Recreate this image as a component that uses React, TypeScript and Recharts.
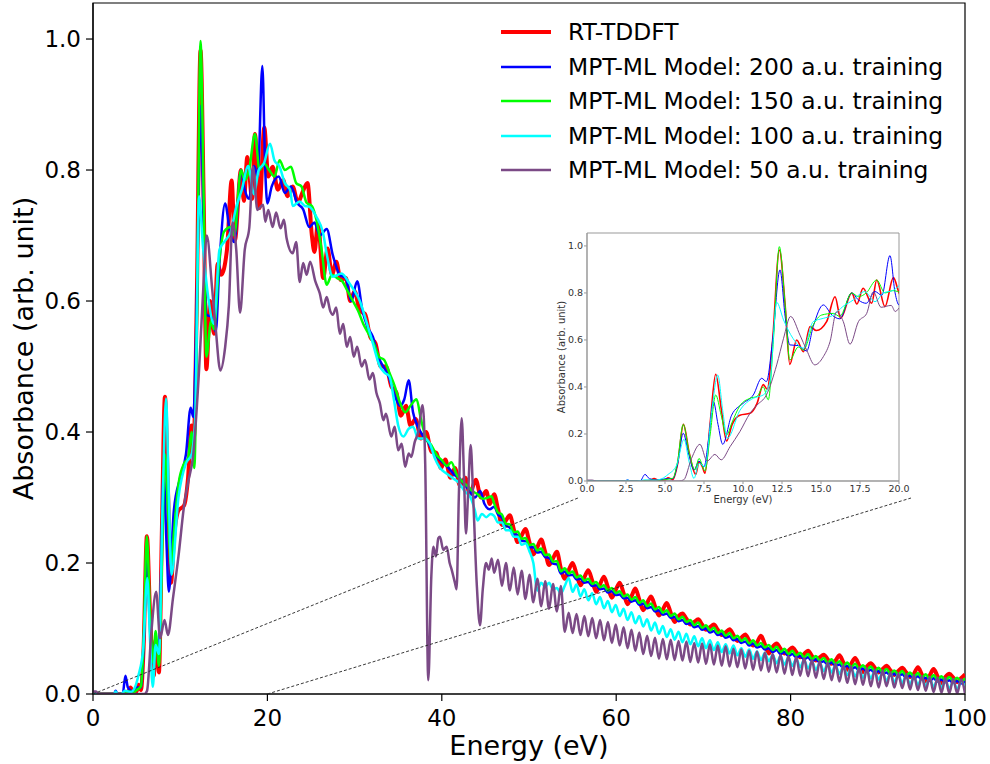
import React from 'react';
import { LineChart, Line, XAxis, YAxis, ReferenceArea } from 'recharts';

type Pt = [number, number];

// Absorbance spectra below 46 eV: [energy (eV), absorbance]
const rtHead: Pt[] = [
  [0, 0], [3.5, 0], [4.0, 0.002], [4.3, 0.01], [4.6, 0.003], [5.0, 0.004], [5.2, 0.014], [5.5, 0.006],
  [5.8, 0.07], [6.18, 0.241], [6.55, 0.12], [6.97, 0.028], [7.18, 0.082], [7.4, 0.06], [7.56, 0.033],
  [7.9, 0.25], [8.25, 0.454], [8.6, 0.31], [8.95, 0.17], [9.3, 0.24], [9.8, 0.28], [10.45, 0.288],
  [10.9, 0.33], [11.3, 0.41], [11.55, 0.39], [11.9, 0.6], [12.33, 0.983], [12.7, 0.75], [13.0, 0.496],
  [13.44, 0.6], [13.87, 0.55], [14.3, 0.657], [14.7, 0.64], [15.36, 0.678], [15.9, 0.784], [16.26, 0.692],
  [16.97, 0.8], [17.3, 0.753], [17.7, 0.82], [18.25, 0.756], [18.57, 0.855], [19.1, 0.742], [19.64, 0.865],
  [20.1, 0.79], [20.6, 0.805], [21.2, 0.77], [21.8, 0.785], [22.3, 0.76], [22.9, 0.775], [23.5, 0.75],
  [24.0, 0.765], [24.6, 0.78], [25.1, 0.7], [25.4, 0.675], [25.8, 0.72], [26.4, 0.635], [26.9, 0.68],
  [27.4, 0.64], [27.9, 0.66], [28.4, 0.632], [29.0, 0.635], [29.5, 0.6], [30.0, 0.615], [30.6, 0.585],
  [31.2, 0.58], [31.8, 0.545], [32.4, 0.535], [33.0, 0.5], [33.6, 0.5], [34.2, 0.47], [34.8, 0.46],
  [35.3, 0.425], [35.9, 0.44], [36.4, 0.41], [37.0, 0.42], [37.6, 0.39], [38.2, 0.4], [38.8, 0.37],
  [39.4, 0.368], [39.9, 0.345], [40.4, 0.358], [41.0, 0.33], [41.5, 0.345], [42.1, 0.318], [42.7, 0.33],
  [43.2, 0.305], [43.9, 0.327], [44.5, 0.3], [45.1, 0.31], [45.5, 0.29],
];

const m200Head: Pt[] = [
  [0, 0], [2.4, 0], [2.6, 0.005], [2.8, 0], [3.4, 0], [3.72, 0.028], [4.0, 0.01], [4.5, 0.004], [5.1, 0.01],
  [5.5, 0.01], [5.8, 0.07], [6.17, 0.203], [6.5, 0.12], [6.86, 0.047], [7.18, 0.085], [7.5, 0.06], [7.8, 0.18],
  [8.1, 0.338], [8.4, 0.24], [8.7, 0.156], [9.27, 0.28], [10.0, 0.33], [10.66, 0.366], [11.2, 0.437],
  [11.5, 0.423], [11.9, 0.6], [12.37, 0.898], [12.7, 0.7], [13.0, 0.579], [13.55, 0.576], [14.08, 0.553],
  [14.5, 0.657], [15.15, 0.749], [15.7, 0.706], [16.2, 0.69], [16.97, 0.8], [17.4, 0.77], [17.9, 0.756],
  [18.46, 0.806], [18.9, 0.79], [19.42, 0.959], [19.75, 0.8], [20.0, 0.749], [20.5, 0.775], [21.3, 0.79],
  [22.0, 0.765], [22.7, 0.775], [23.4, 0.75], [24.1, 0.74], [24.8, 0.713], [25.4, 0.72], [26.0, 0.7],
  [26.8, 0.71], [27.5, 0.67], [28.3, 0.64], [29.0, 0.635], [29.6, 0.6], [30.3, 0.63], [30.9, 0.585],
  [31.5, 0.56], [32.1, 0.545], [32.7, 0.515], [33.3, 0.5], [33.9, 0.485], [34.5, 0.46], [35.2, 0.44],
  [35.7, 0.45], [36.2, 0.479], [36.7, 0.43], [37.2, 0.41], [37.8, 0.395], [38.4, 0.385], [39.0, 0.37],
  [39.6, 0.36], [40.2, 0.352], [40.8, 0.345], [41.4, 0.335], [42.0, 0.33], [42.6, 0.32], [43.2, 0.31],
  [43.8, 0.3], [44.4, 0.31], [44.9, 0.29], [45.5, 0.282],
];

const m150Head: Pt[] = [
  [0, 0], [3.5, 0], [4.2, 0.004], [4.6, 0.002], [5.0, 0.006], [5.5, 0.012], [5.8, 0.08], [6.17, 0.241],
  [6.55, 0.12], [6.92, 0.047], [7.18, 0.096], [7.56, 0.043], [7.9, 0.2], [8.25, 0.366], [8.6, 0.28],
  [8.95, 0.196], [9.3, 0.25], [9.8, 0.32], [10.45, 0.352], [10.9, 0.36], [11.3, 0.4], [11.62, 0.345],
  [11.95, 0.6], [12.33, 0.997], [12.7, 0.75], [13.0, 0.515], [13.55, 0.57], [13.87, 0.557], [14.5, 0.664],
  [15.04, 0.706], [15.8, 0.713], [16.2, 0.7], [16.97, 0.8], [17.4, 0.784], [17.9, 0.8], [18.57, 0.855],
  [19.1, 0.8], [19.6, 0.81], [20.2, 0.8], [20.8, 0.79], [21.4, 0.815], [22.0, 0.8], [22.7, 0.805],
  [23.3, 0.78], [23.9, 0.775], [24.5, 0.75], [25.1, 0.745], [25.6, 0.725], [26.2, 0.68], [26.8, 0.625],
  [27.4, 0.64], [28.0, 0.635], [28.6, 0.63], [29.2, 0.615], [29.8, 0.6], [30.4, 0.585], [31.0, 0.565],
  [31.6, 0.55], [32.2, 0.535], [32.8, 0.515], [33.4, 0.51], [34.0, 0.49], [34.6, 0.47], [35.2, 0.445],
  [35.8, 0.43], [36.4, 0.44], [37.1, 0.45], [37.6, 0.42], [38.2, 0.39], [38.8, 0.38], [39.4, 0.365],
  [40.0, 0.357], [40.6, 0.348], [41.1, 0.354], [41.7, 0.335], [42.3, 0.325], [42.9, 0.318], [43.5, 0.31],
  [44.1, 0.305], [44.7, 0.298], [45.3, 0.3], [45.7, 0.302],
];

const m100Head: Pt[] = [
  [0, 0], [2.4, 0], [2.6, 0.004], [2.8, 0], [3.2, 0], [3.7, 0.005], [4.3, 0.003], [4.8, 0.01], [5.2, 0.028],
  [5.75, 0.068], [6.22, 0.177], [6.55, 0.08], [6.86, 0.011], [7.18, 0.075], [7.56, 0.061], [8.0, 0.3],
  [8.38, 0.451], [8.7, 0.3], [9.0, 0.182], [9.8, 0.3], [10.66, 0.352], [11.3, 0.366], [11.73, 0.423],
  [12.16, 0.76], [12.6, 0.685], [13.2, 0.607], [13.87, 0.565], [14.5, 0.678], [15.15, 0.692], [15.8, 0.706],
  [16.4, 0.742], [17.07, 0.77], [17.8, 0.806], [18.46, 0.763], [19.0, 0.8], [19.6, 0.81], [20.3, 0.84],
  [20.8, 0.815], [21.4, 0.805], [22.0, 0.78], [22.6, 0.77], [22.9, 0.745], [23.7, 0.752], [24.3, 0.745],
  [24.8, 0.744], [25.6, 0.729], [26.4, 0.703], [26.8, 0.672], [27.5, 0.637], [28.5, 0.642], [29.4, 0.627],
  [30.0, 0.615], [30.6, 0.6], [31.3, 0.571], [32.0, 0.54], [32.9, 0.5], [33.5, 0.49], [34.0, 0.485],
  [34.5, 0.45], [35.0, 0.41], [35.6, 0.393], [36.2, 0.405], [36.7, 0.408], [37.3, 0.39], [38.0, 0.39],
  [38.6, 0.383], [39.2, 0.36], [39.8, 0.345], [40.5, 0.337], [41.2, 0.33], [42.0, 0.322], [42.6, 0.31],
  [43.3, 0.3], [43.8, 0.28], [44.1, 0.265], [44.6, 0.275], [45.1, 0.27], [45.6, 0.275],
];

const m50Head: Pt[] = [
  [0, 0.004], [0.35, 0.004], [0.6, 0], [5.9, 0], [6.2, 0.005], [6.7, 0.096], [7.24, 0.156], [7.7, 0.085],
  [8.2, 0.113], [8.6, 0.09], [9.17, 0.146], [9.8, 0.21], [10.45, 0.288], [10.9, 0.323], [11.5, 0.366],
  [12.16, 0.494], [12.6, 0.607], [13.05, 0.7], [13.65, 0.621], [14.08, 0.557], [14.6, 0.494], [15.15, 0.529],
  [15.58, 0.593], [16.0, 0.72], [16.43, 0.678], [16.86, 0.582], [17.4, 0.678], [17.93, 0.713], [18.35, 0.805],
  [18.85, 0.739], [19.5, 0.747], [19.76, 0.721], [20.1, 0.739], [20.6, 0.713], [21.0, 0.735], [21.5, 0.711],
  [21.9, 0.724], [22.2, 0.696], [22.9, 0.673], [23.3, 0.69], [23.7, 0.629], [24.1, 0.658], [24.5, 0.64],
  [24.9, 0.66], [25.5, 0.63], [26.0, 0.612], [26.4, 0.59], [26.8, 0.606], [27.2, 0.585], [27.5, 0.579],
  [27.9, 0.59], [28.3, 0.55], [28.7, 0.565], [29.1, 0.53], [29.5, 0.545], [29.9, 0.515], [30.3, 0.53],
  [30.8, 0.5], [31.2, 0.51], [31.7, 0.48], [32.1, 0.49], [32.5, 0.46], [32.9, 0.444], [33.3, 0.418],
  [33.6, 0.428], [34.2, 0.393], [34.6, 0.408], [35.0, 0.372], [35.4, 0.382], [35.8, 0.347], [36.2, 0.367],
  [36.5, 0.362], [36.9, 0.385], [37.3, 0.4], [37.8, 0.441], [38.1, 0.35], [38.45, 0.021], [38.8, 0.18],
  [39.03, 0.225], [39.33, 0.21], [39.6, 0.238], [39.79, 0.24], [40.17, 0.22], [40.56, 0.225], [40.9, 0.2],
  [41.13, 0.19], [41.5, 0.17], [41.7, 0.16], [41.95, 0.3], [42.28, 0.421], [42.55, 0.33], [42.77, 0.245],
  [43.0, 0.3], [43.31, 0.38], [43.6, 0.3], [44.0, 0.17], [44.38, 0.105], [44.7, 0.16], [45.07, 0.2],
  [45.4, 0.19], [45.72, 0.207],
];

// High-energy tail, shared energy grid (eV)
const tailEnergy = [
  46, 46.45, 46.9, 47.35, 47.8, 48.25, 48.7, 49.15, 49.6, 50.05, 50.5, 50.95, 51.4, 51.85, 52.3, 52.75, 53.2, 53.65, 54.1, 54.55,
  55, 55.45, 55.9, 56.35, 56.8, 57.25, 57.7, 58.15, 58.6, 59.05, 59.5, 59.95, 60.4, 60.85, 61.3, 61.75, 62.2, 62.65, 63.1, 63.55,
  64, 64.45, 64.9, 65.35, 65.8, 66.25, 66.7, 67.15, 67.6, 68.05, 68.5, 68.95, 69.4, 69.85, 70.3, 70.75, 71.2, 71.65, 72.1, 72.55,
  73, 73.45, 73.9, 74.35, 74.8, 75.25, 75.7, 76.15, 76.6, 77.05, 77.5, 77.95, 78.4, 78.85, 79.3, 79.75, 80.2, 80.65, 81.1, 81.55,
  82, 82.45, 82.9, 83.35, 83.8, 84.25, 84.7, 85.15, 85.6, 86.05, 86.5, 86.95, 87.4, 87.85, 88.3, 88.75, 89.2, 89.65, 90.1, 90.55,
  91, 91.45, 91.9, 92.35, 92.8, 93.25, 93.7, 94.15, 94.6, 95.05, 95.5, 95.95, 96.4, 96.85, 97.3, 97.75, 98.2, 98.65, 99.1, 99.55,
  100,
];

const rtTail = [
  0.305, 0.282, 0.258, 0.265, 0.273, 0.252, 0.232, 0.242, 0.252, 0.232, 0.213, 0.224, 0.236, 0.217, 0.197, 0.207, 0.217, 0.192, 0.176, 0.189,
  0.2, 0.183, 0.166, 0.178, 0.189, 0.173, 0.156, 0.168, 0.179, 0.163, 0.147, 0.159, 0.17, 0.154, 0.137, 0.149, 0.161, 0.144, 0.128, 0.139,
  0.149, 0.134, 0.12, 0.129, 0.139, 0.124, 0.11, 0.119, 0.123, 0.115, 0.106, 0.11, 0.114, 0.106, 0.098, 0.102, 0.106, 0.098, 0.09, 0.094,
  0.099, 0.09, 0.081, 0.086, 0.091, 0.082, 0.074, 0.079, 0.089, 0.076, 0.062, 0.072, 0.077, 0.069, 0.062, 0.066, 0.071, 0.064, 0.056, 0.061,
  0.066, 0.058, 0.051, 0.056, 0.06, 0.053, 0.046, 0.051, 0.059, 0.048, 0.037, 0.046, 0.055, 0.044, 0.033, 0.042, 0.047, 0.04, 0.033, 0.038,
  0.043, 0.036, 0.029, 0.035, 0.04, 0.033, 0.026, 0.031, 0.041, 0.03, 0.019, 0.028, 0.038, 0.027, 0.016, 0.026, 0.031, 0.025, 0.018, 0.024,
  0.03,
];

const m200Tail = [
  0.286, 0.274, 0.269, 0.257, 0.254, 0.244, 0.243, 0.234, 0.233, 0.224, 0.224, 0.216, 0.217, 0.209, 0.208, 0.199, 0.198, 0.184, 0.187, 0.181,
  0.182, 0.175, 0.176, 0.17, 0.171, 0.165, 0.166, 0.16, 0.161, 0.155, 0.157, 0.151, 0.152, 0.146, 0.147, 0.141, 0.143, 0.136, 0.138, 0.131,
  0.133, 0.126, 0.128, 0.121, 0.123, 0.116, 0.118, 0.111, 0.113, 0.107, 0.108, 0.102, 0.104, 0.098, 0.1, 0.094, 0.096, 0.09, 0.092, 0.086,
  0.088, 0.082, 0.084, 0.078, 0.08, 0.074, 0.077, 0.071, 0.073, 0.068, 0.07, 0.064, 0.067, 0.061, 0.064, 0.058, 0.061, 0.056, 0.058, 0.053,
  0.056, 0.05, 0.053, 0.048, 0.05, 0.045, 0.048, 0.043, 0.045, 0.04, 0.043, 0.038, 0.041, 0.036, 0.039, 0.034, 0.037, 0.032, 0.035, 0.03,
  0.033, 0.028, 0.031, 0.027, 0.03, 0.025, 0.028, 0.023, 0.027, 0.022, 0.025, 0.02, 0.024, 0.019, 0.022, 0.018, 0.021, 0.017, 0.02, 0.016,
  0.019,
];

const m150Tail = [
  0.291, 0.277, 0.274, 0.26, 0.259, 0.247, 0.248, 0.237, 0.238, 0.227, 0.229, 0.219, 0.222, 0.212, 0.213, 0.202, 0.203, 0.187, 0.192, 0.184,
  0.187, 0.178, 0.181, 0.173, 0.176, 0.168, 0.171, 0.163, 0.166, 0.158, 0.162, 0.154, 0.157, 0.149, 0.152, 0.144, 0.148, 0.139, 0.143, 0.134,
  0.138, 0.129, 0.133, 0.124, 0.128, 0.119, 0.123, 0.114, 0.118, 0.11, 0.113, 0.105, 0.109, 0.101, 0.105, 0.097, 0.101, 0.093, 0.097, 0.089,
  0.093, 0.085, 0.089, 0.081, 0.085, 0.077, 0.082, 0.074, 0.078, 0.071, 0.075, 0.067, 0.072, 0.064, 0.069, 0.061, 0.066, 0.059, 0.063, 0.056,
  0.061, 0.053, 0.058, 0.051, 0.055, 0.048, 0.053, 0.046, 0.05, 0.043, 0.048, 0.041, 0.046, 0.039, 0.044, 0.037, 0.042, 0.035, 0.04, 0.033,
  0.038, 0.031, 0.036, 0.03, 0.035, 0.028, 0.033, 0.026, 0.032, 0.025, 0.03, 0.023, 0.029, 0.022, 0.027, 0.021, 0.026, 0.02, 0.025, 0.019,
  0.024,
];

const m100Tail = [
  0.272, 0.262, 0.262, 0.25, 0.25, 0.24, 0.24, 0.228, 0.23, 0.218, 0.2, 0.158, 0.17, 0.163, 0.17, 0.16, 0.162, 0.153, 0.165, 0.177,
  0.156, 0.167, 0.149, 0.16, 0.143, 0.154, 0.137, 0.148, 0.131, 0.142, 0.125, 0.136, 0.119, 0.13, 0.113, 0.125, 0.108, 0.119, 0.103, 0.114,
  0.097, 0.109, 0.092, 0.104, 0.087, 0.099, 0.083, 0.095, 0.079, 0.092, 0.076, 0.088, 0.073, 0.085, 0.07, 0.082, 0.067, 0.079, 0.064, 0.076,
  0.062, 0.074, 0.059, 0.07, 0.057, 0.068, 0.054, 0.065, 0.052, 0.063, 0.05, 0.06, 0.047, 0.058, 0.045, 0.056, 0.043, 0.054, 0.041, 0.052,
  0.039, 0.05, 0.037, 0.048, 0.035, 0.046, 0.033, 0.044, 0.031, 0.042, 0.029, 0.04, 0.027, 0.038, 0.025, 0.036, 0.024, 0.035, 0.022, 0.033,
  0.02, 0.031, 0.018, 0.03, 0.017, 0.028, 0.015, 0.027, 0.014, 0.025, 0.012, 0.024, 0.011, 0.022, 0.01, 0.021, 0.008, 0.02, 0.007, 0.019,
  0.012,
];

const m50Tail = [
  0.185, 0.205, 0.165, 0.2, 0.158, 0.193, 0.152, 0.188, 0.145, 0.182, 0.14, 0.176, 0.134, 0.172, 0.13, 0.168, 0.126, 0.165, 0.095, 0.124,
  0.093, 0.122, 0.09, 0.119, 0.088, 0.116, 0.085, 0.113, 0.082, 0.11, 0.078, 0.106, 0.074, 0.102, 0.07, 0.098, 0.066, 0.094, 0.061, 0.089,
  0.058, 0.086, 0.054, 0.084, 0.053, 0.083, 0.052, 0.081, 0.051, 0.08, 0.049, 0.078, 0.048, 0.077, 0.046, 0.076, 0.045, 0.074, 0.043, 0.073,
  0.042, 0.069, 0.041, 0.068, 0.039, 0.066, 0.037, 0.065, 0.036, 0.063, 0.034, 0.061, 0.033, 0.06, 0.031, 0.058, 0.029, 0.057, 0.028, 0.055,
  0.027, 0.052, 0.025, 0.05, 0.023, 0.048, 0.021, 0.046, 0.019, 0.044, 0.017, 0.042, 0.015, 0.04, 0.014, 0.039, 0.012, 0.037, 0.01, 0.036,
  0.012, 0.033, 0.01, 0.031, 0.009, 0.03, 0.007, 0.029, 0.006, 0.027, 0.005, 0.026, 0.003, 0.025, 0.002, 0.024, 0.001, 0.023, 0.001, 0.022,
  0.001,
];

const mainXTicks = [0, 20, 40, 60, 80, 100];
const mainYTicks = [0, 0.2, 0.4, 0.6, 0.8, 1.0];
const insetXTicks = [0, 2.5, 5, 7.5, 10, 12.5, 15, 17.5, 20];
const insetYTicks = [0, 0.2, 0.4, 0.6, 0.8, 1.0];

const FONT = '"DejaVu Sans", sans-serif';
const Y_TOP = 1.055;

// main plot box in page pixels
const PLOT_LEFT = 93;
const PLOT_RIGHT = 965;
const PLOT_BOTTOM = 694;

const joinSeries = (head: Pt[], tail: number[]) => [
  ...head.map(([e, a]) => ({ e, a })),
  ...tailEnergy.map((e, i) => ({ e, a: tail[i] })),
];

const series = [
  { name: 'RT-TDDFT', color: '#ff0000', width: 4, insetWidth: 1.6, rows: joinSeries(rtHead, rtTail) },
  { name: 'MPT-ML Model: 200 a.u. training', color: '#0000ff', width: 2.5, insetWidth: 1, rows: joinSeries(m200Head, m200Tail) },
  { name: 'MPT-ML Model: 150 a.u. training', color: '#00ff00', width: 2.5, insetWidth: 1, rows: joinSeries(m150Head, m150Tail) },
  { name: 'MPT-ML Model: 100 a.u. training', color: '#00ffff', width: 2.5, insetWidth: 1, rows: joinSeries(m100Head, m100Tail) },
  { name: 'MPT-ML Model: 50 a.u. training', color: '#7b4a86', width: 2.5, insetWidth: 1, rows: joinSeries(m50Head, m50Tail) },
];

const fmt1 = (v: number) => v.toFixed(1);

function Legendbox() {
  return (
    <div style={{ position: 'absolute', left: 0, top: 0 }}>
      {series.map((s, i) => (
        <div
          key={s.name}
          style={{
            position: 'absolute',
            left: 500,
            top: 32.3 + i * 34.45 - 14,
            height: 28,
            display: 'flex',
            alignItems: 'center',
            whiteSpace: 'nowrap',
          }}
        >
          <svg width={52} height={28}>
            <line x1={1} y1={14} x2={51} y2={14} stroke={s.color} strokeWidth={s.width} />
          </svg>
          <span style={{ marginLeft: 16, fontSize: 23.4, lineHeight: '28px', color: '#000' }}>{s.name}</span>
        </div>
      ))}
    </div>
  );
}

export default function App() {
  const pxPerEv = (PLOT_RIGHT - PLOT_LEFT) / 100;
  const insetRows = series.map((s) => s.rows.filter((r) => r.e <= 21));

  return (
    <div style={{ position: 'absolute', left: 0, top: 0, width: 990, height: 764, background: '#fff', fontFamily: FONT }}>
      <LineChart width={990} height={764} margin={{ top: 3, right: 25, bottom: 0, left: 0 }}>
        <XAxis
          dataKey="e"
          type="number"
          domain={[0, 100]}
          ticks={mainXTicks}
          allowDataOverflow
          height={70}
          tickSize={7}
          tickMargin={9}
          axisLine={{ stroke: '#000', strokeWidth: 1.2 }}
          tickLine={{ stroke: '#000', strokeWidth: 1.2 }}
          tick={{ fontSize: 23, fill: '#000' }}
          label={{ value: 'Energy (eV)', position: 'insideBottom', offset: 9, fontSize: 27, fill: '#000' }}
        />
        <YAxis
          type="number"
          domain={[0, Y_TOP]}
          ticks={mainYTicks}
          allowDataOverflow
          width={93}
          tickSize={7}
          tickMargin={5}
          tickFormatter={fmt1}
          axisLine={{ stroke: '#000', strokeWidth: 1.2 }}
          tickLine={{ stroke: '#000', strokeWidth: 1.2 }}
          tick={{ fontSize: 23, fill: '#000' }}
          label={{
            value: 'Absorbance (arb. unit)',
            angle: -90,
            position: 'insideLeft',
            offset: 23,
            fontSize: 27,
            fill: '#000',
            style: { textAnchor: 'middle' },
          }}
        />
        <ReferenceArea x1={0} x2={100} y1={0} y2={Y_TOP} fill="none" stroke="#000" strokeWidth={1.2} />
        {series.map((s) => (
          <Line
            key={s.name}
            data={s.rows}
            dataKey="a"
            name={s.name}
            type="monotone"
            stroke={s.color}
            strokeWidth={s.width}
            strokeLinejoin="round"
            dot={false}
            activeDot={false}
            isAnimationActive={false}
          />
        ))}
      </LineChart>

      {/* zoom connectors from the 0–20 eV range to the inset */}
      <svg width={990} height={764} style={{ position: 'absolute', left: 0, top: 0, pointerEvents: 'none' }}>
        <line x1={PLOT_LEFT} y1={PLOT_BOTTOM} x2={578} y2={498} stroke="#222" strokeWidth={0.9} strokeDasharray="3 2" />
        <line x1={PLOT_LEFT + 20 * pxPerEv} y1={PLOT_BOTTOM} x2={911} y2={498} stroke="#222" strokeWidth={0.9} strokeDasharray="3 2" />
      </svg>

      <div style={{ position: 'absolute', left: 540, top: 225 }}>
        <LineChart width={370} height={290} margin={{ top: 8, right: 11, bottom: 0, left: 0 }}>
          <XAxis
            dataKey="e"
            type="number"
            domain={[0, 20]}
            ticks={insetXTicks}
            allowDataOverflow
            height={34}
            tickSize={3}
            tickMargin={1}
            tickFormatter={fmt1}
            axisLine={{ stroke: '#999', strokeWidth: 1 }}
            tickLine={{ stroke: '#999' }}
            tick={{ fontSize: 9.5, fill: '#333' }}
            label={{ value: 'Energy (eV)', position: 'insideBottom', offset: 12, fontSize: 10, fill: '#333' }}
          />
          <YAxis
            type="number"
            domain={[0, Y_TOP]}
            ticks={insetYTicks}
            allowDataOverflow
            width={47}
            tickSize={3}
            tickMargin={1}
            tickFormatter={fmt1}
            axisLine={{ stroke: '#999', strokeWidth: 1 }}
            tickLine={{ stroke: '#999' }}
            tick={{ fontSize: 9.5, fill: '#333' }}
            label={{
              value: 'Absorbance (arb. unit)',
              angle: -90,
              position: 'insideLeft',
              offset: 21,
              fontSize: 10,
              fill: '#333',
              style: { textAnchor: 'middle' },
            }}
          />
          <ReferenceArea x1={0} x2={20} y1={0} y2={Y_TOP} fill="none" stroke="#999" strokeWidth={1} />
          {series.map((s, i) => (
            <Line
              key={s.name}
              data={insetRows[i]}
              dataKey="a"
              name={s.name}
              type="monotone"
              stroke={s.color}
              strokeWidth={s.insetWidth}
              dot={false}
              activeDot={false}
              isAnimationActive={false}
            />
          ))}
        </LineChart>
      </div>

      <Legendbox />
    </div>
  );
}
